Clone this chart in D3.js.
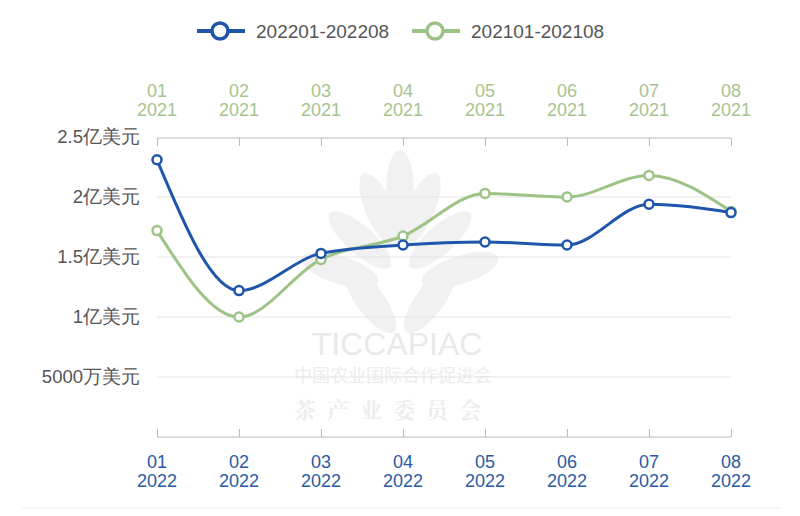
<!DOCTYPE html>
<html><head><meta charset="utf-8">
<script src="https://cdn.jsdelivr.net/npm/d3@7/dist/d3.min.js"></script>
<style>body{margin:0;background:#fff}svg{display:block;font-family:"Liberation Sans","DejaVu Sans",sans-serif}</style>
</head><body><svg id="c" width="800" height="516"></svg>
<script>
const months = ["01","02","03","04","05","06","07","08"];
const yearBottom = "2022";
const yearTop = "2021";
const series2022 = [2.31, 1.22, 1.53, 1.60, 1.625, 1.60, 1.94, 1.87];
const series2021 = [1.72, 1.00, 1.48, 1.675, 2.03, 2.00, 2.18, 1.88];
const seriesNames = ["202201-202208", "202101-202108"];
const yTicks = [0, 0.5, 1, 1.5, 2, 2.5];
const yTickLabels = ["", "5000万美元", "1亿美元", "1.5亿美元", "2亿美元", "2.5亿美元"];
const colors = ["#1f56ac", "#9dc386"];

const svg = d3.select("#c");
const L = 157, R = 731, T = 137, B = 437;
const x = d3.scalePoint().domain(months).range([L, R]);
const y = d3.scaleLinear().domain([0, 2.5]).range([B, T]);

// watermark
const wm = svg.append("g").attr("fill", "#f1f1f1");
const leafs = [[-40,0],[-20,-30],[0,-50],[20,-30],[40,0],[-60,30],[60,30],[-30,60],[30,60]];
leafs.forEach(([dx,dy])=>{
  wm.append("ellipse").attr("cx", 400+dx).attr("cy", 240+dy).attr("rx", 14).attr("ry", 40)
    .attr("transform", `rotate(${dx*1.2} ${400+dx} ${240+dy})`);
});
wm.append("text").attr("x", 397).attr("y", 355).attr("text-anchor","middle").attr("font-size", 32).attr("fill","#e9e9e9").text("TICCAPIAC");
wm.append("text").attr("x", 393).attr("y", 382).attr("text-anchor","middle").attr("font-size", 18).attr("fill","#ededed").attr("font-family","'Noto Sans CJK SC'").text("中国农业国际合作促进会");
wm.append("text").attr("x", 393).attr("y", 418).attr("text-anchor","middle").attr("font-size", 22).attr("letter-spacing", 11).attr("fill","#ededed").attr("font-weight","bold").attr("font-family","'Noto Serif CJK SC','Noto Sans CJK SC'").text("茶产业委员会");

// gridlines
svg.append("g").selectAll("line").data(yTicks.filter(d=>d>0 && d<2.5)).join("line")
  .attr("x1", L).attr("x2", R).attr("y1", d=>y(d)).attr("y2", d=>y(d))
  .attr("stroke", "#e3e3e3").attr("stroke-width", 1);

// y labels
svg.append("g").selectAll("text").data(yTicks).join("text")
  .attr("x", 140).attr("y", d=>y(d)).attr("dy", "0.35em").attr("text-anchor", "end")
  .attr("font-size", 18.5).attr("fill", "#555").text((d,i)=>yTickLabels[i]);

// bottom axis
const gb = svg.append("g").attr("transform", `translate(0,${B})`)
  .call(d3.axisBottom(x).tickSize(-8).tickSizeOuter(0).tickFormat(""));
gb.select(".domain").attr("stroke", "#bbb").attr("d", `M${L},0H${R}`);
gb.selectAll(".tick line").attr("stroke", "#bbb");
const bl = svg.append("g").selectAll("text").data(months).join("text")
  .attr("text-anchor","middle").attr("font-size", 18).attr("fill", "#2a5aa6");
bl.append("tspan").attr("x", d=>x(d)).attr("y", 468).text(d=>d);
bl.append("tspan").attr("x", d=>x(d)).attr("y", 487).text(yearBottom);

// top axis
const gt = svg.append("g").attr("transform", `translate(0,${T+1})`)
  .call(d3.axisTop(x).tickSize(-8).tickSizeOuter(0).tickFormat(""));
gt.select(".domain").attr("stroke", "#bbb").attr("d", `M${L},0H${R}`);
gt.selectAll(".tick line").attr("stroke", "#bbb");
const tl = svg.append("g").selectAll("text").data(months).join("text")
  .attr("text-anchor","middle").attr("font-size", 18).attr("fill", "#a6c48e");
tl.append("tspan").attr("x", d=>x(d)).attr("y", 97).text(d=>d);
tl.append("tspan").attr("x", d=>x(d)).attr("y", 116).text(yearTop);

// bottom faint line
svg.append("line").attr("x1", 22).attr("x2", 780).attr("y1", 508).attr("y2", 508).attr("stroke", "#eeeeee");

// lines
const line = d3.line().x((d,i)=>x(months[i])).y(d=>y(d)).curve(d3.curveMonotoneX);
[series2021, series2022].forEach((s, k) => {
  const c = k === 0 ? colors[1] : colors[0];
  svg.append("path").datum(s).attr("d", line).attr("fill","none").attr("stroke", c).attr("stroke-width", 3);
  svg.append("g").selectAll("circle").data(s).join("circle")
    .attr("cx", (d,i)=>x(months[i])).attr("cy", d=>y(d)).attr("r", 4.5)
    .attr("fill", "#fff").attr("stroke", c).attr("stroke-width", 2.5);
});

// legend
const lg = [{x: 197, c: colors[0], t: seriesNames[0]}, {x: 412, c: colors[1], t: seriesNames[1]}];
lg.forEach(o => {
  const g = svg.append("g");
  g.append("line").attr("x1", o.x).attr("x2", o.x+48).attr("y1", 31).attr("y2", 31).attr("stroke", o.c).attr("stroke-width", 4);
  g.append("circle").attr("cx", o.x+23).attr("cy", 31).attr("r", 8).attr("fill","#fff").attr("stroke", o.c).attr("stroke-width", 3.5);
  g.append("text").attr("x", o.x+59).attr("y", 31).attr("dy","0.35em").attr("font-size", 19).attr("fill","#555").text(o.t);
});
</script></body></html>
